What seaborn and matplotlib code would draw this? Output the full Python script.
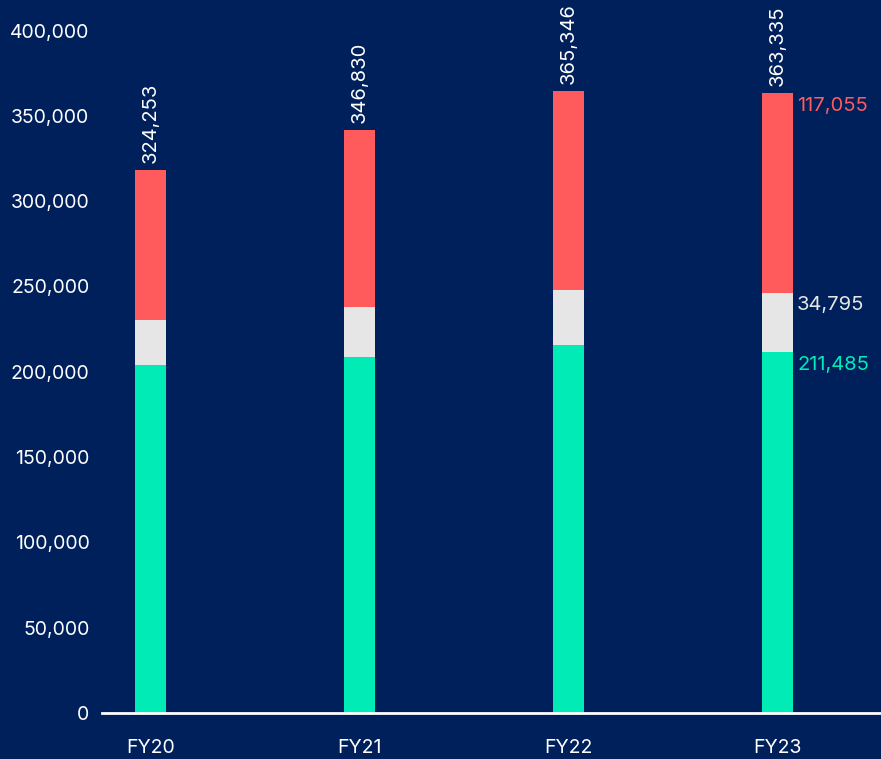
import numpy as np
import pandas as pd
import seaborn as sns
import matplotlib.pyplot as plt

# datos
years = ["FY20", "FY21", "FY22", "FY23"]
green = [204000, 208700, 215700, 211485]
grey = [26400, 29300, 32300, 34795]
red = [87900, 103800, 116600, 117055]
total_labels = ["324,253", "346,830", "365,346", "363,335"]
last_labels = ["211,485", "34,795", "117,055"]

bg = "#00205B"
c_green = "#00EBB5"
c_grey = "#E6E6E6"
c_red = "#FF5A5C"

sns.set_theme(style="white")
plt.rcParams["font.family"] = ["Inter", "DejaVu Sans"]

df = pd.DataFrame({"year": years, "green": green, "grey": grey, "red": red})
df["top_grey"] = df["green"] + df["grey"]
df["top_red"] = df["top_grey"] + df["red"]

fig = plt.figure(figsize=(8.81, 7.59), dpi=100, facecolor=bg)
ax = fig.add_axes([0.1158, 0.0606, 0.8842, 0.8991])
ax.set_facecolor(bg)

w = 0.148
sns.barplot(data=df, x="year", y="top_red", color=c_red, width=w, saturation=1, ax=ax)
sns.barplot(data=df, x="year", y="top_grey", color=c_grey, width=w, saturation=1, ax=ax)
sns.barplot(data=df, x="year", y="green", color=c_green, width=w, saturation=1, ax=ax)
for p in ax.patches:
    p.set_linewidth(0)

ax.set_ylim(0, 400000)
ax.set_xlim(-0.232, 3.495)
ax.set_yticks(np.arange(0, 400001, 50000))
ax.set_yticklabels([f"{v:,}" for v in range(0, 400001, 50000)])
ax.set_xlabel("")
ax.set_ylabel("")
ax.tick_params(axis="y", colors="white", labelsize=14, length=0, pad=9)
ax.tick_params(axis="x", colors="white", labelsize=14, length=0, pad=19)

for s in ["top", "right", "left"]:
    ax.spines[s].set_visible(False)
ax.spines["bottom"].set_color("white")
ax.spines["bottom"].set_linewidth(2)

# totales rotados encima de cada barra
for i, lab in enumerate(total_labels):
    ax.annotate(lab, (i, df["top_red"][i]), xytext=(0, 5), textcoords="offset points",
                rotation=90, ha="center", va="bottom", color="white", fontsize=14.5,
                annotation_clip=False)

# etiquetas de segmentos en FY23
last = len(years) - 1
tops = [df["green"][last], df["top_grey"][last], df["top_red"][last]]
cols = [c_green, c_grey, c_red]
for lab, t, c in zip(last_labels, tops, cols):
    ax.annotate(lab, (last + w / 2, t), xytext=(3, -9), textcoords="offset points",
                ha="left", va="center", color=c, fontsize=14.5)

plt.savefig("out.png", dpi=100, facecolor=bg)
